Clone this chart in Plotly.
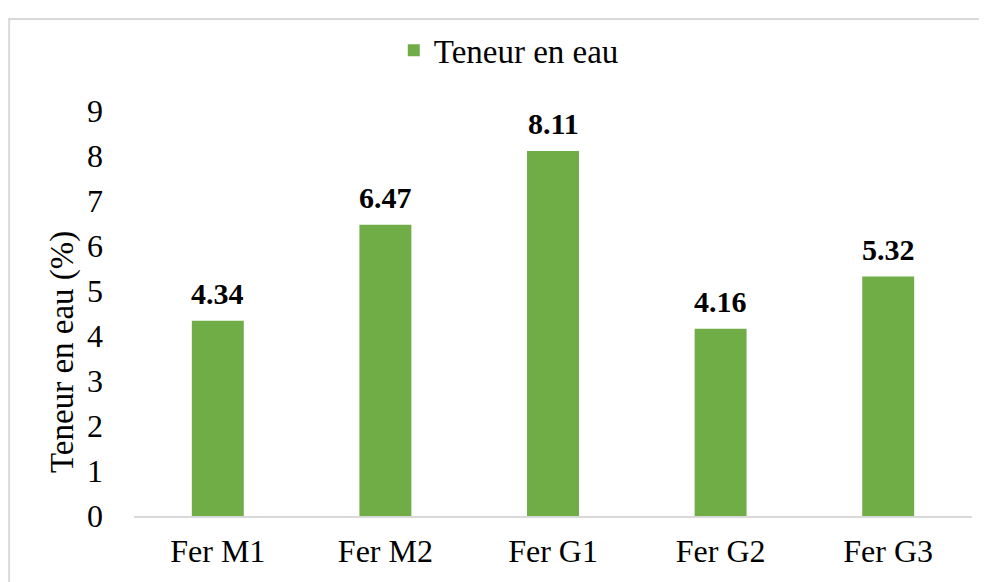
import plotly.graph_objects as go

# ================= DATA =================
categories = ["Fer M1", "Fer M2", "Fer G1", "Fer G2", "Fer G3"]
teneur_eau = [4.34, 6.47, 8.11, 4.16, 5.32]
y_ticks = [0, 1, 2, 3, 4, 5, 6, 7, 8, 9]

FONT = "Liberation Serif"
GREEN = "#70ad47"
GREY = "#d9d9d9"

# ================= FIGURE =================
fig = go.Figure()
fig.add_trace(go.Bar(
    x=categories, y=teneur_eau, name="Teneur en eau",
    marker=dict(color=GREEN, line=dict(width=0)),
))

# value labels above the bars
for cat, val in zip(categories, teneur_eau):
    fig.add_annotation(x=cat, y=val, text=f"<b>{val:.2f}</b>", showarrow=False,
                       yanchor="bottom", yshift=9,
                       font=dict(family=FONT, size=30, color="black"))

# y title (sits lower than the plot centre, as in the original)
fig.add_annotation(xref="paper", yref="paper", x=-0.0847, y=0.405,
                   text="Teneur en eau (%)", textangle=-90, showarrow=False,
                   xanchor="center", yanchor="middle",
                   font=dict(family=FONT, size=33, color="black"))

# outer chart border (cut by the image edges on the right and bottom)
fig.add_shape(type="rect", xref="paper", yref="paper",
              x0=-0.149, x1=1.05, y0=-0.3, y1=1.227,
              line=dict(color=GREY, width=2), layer="below")

fig.update_layout(
    width=987, height=582,
    margin=dict(l=126, r=23, t=103, b=74),
    paper_bgcolor="white", plot_bgcolor="white",
    font=dict(family=FONT, size=32, color="black"),
    bargap=0.69,
    showlegend=True,
    legend=dict(orientation="h", x=0.31, xanchor="left", y=1.15, yanchor="middle",
                font=dict(family=FONT, size=33, color="black"),
                itemwidth=30),
)
fig.update_xaxes(showline=True, linecolor=GREY, linewidth=2, showgrid=False,
                 ticks="", tickfont=dict(size=32), ticklabelstandoff=6)
fig.update_yaxes(range=[0, 9], tickvals=y_ticks, showgrid=False, zeroline=False,
                 showline=False, ticks="", tickfont=dict(size=32),
                 ticklabelstandoff=30)

fig.write_html("out.html")
